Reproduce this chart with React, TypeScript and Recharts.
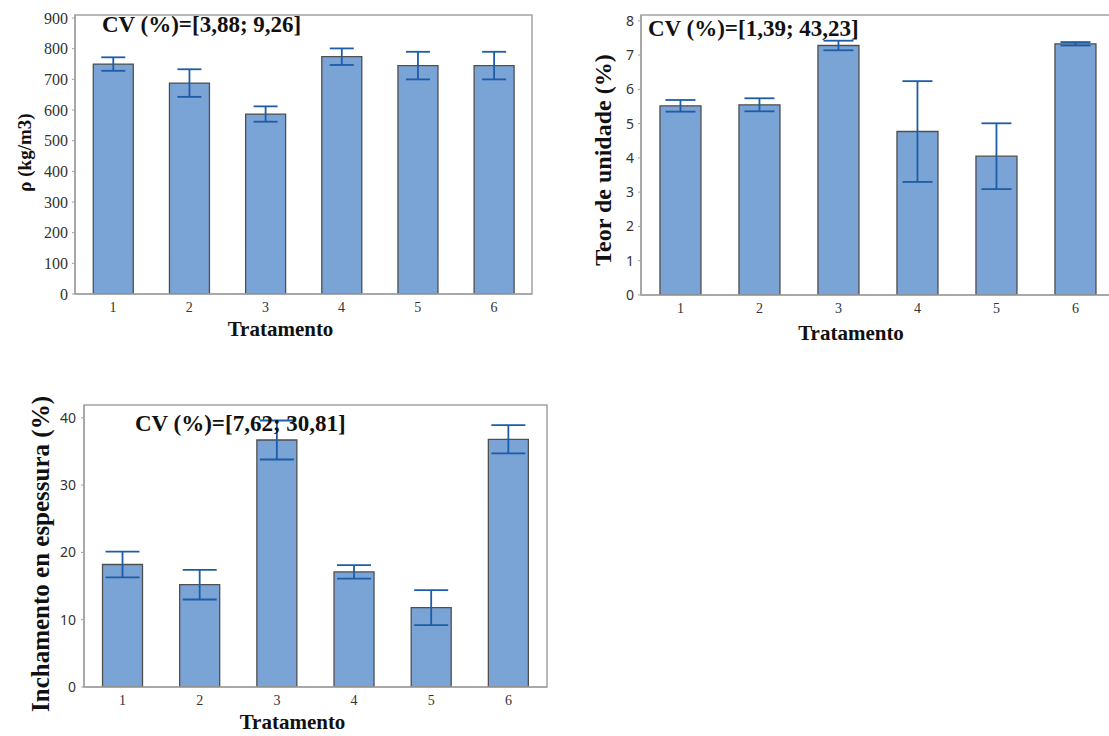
import React from 'react';
import { BarChart, Bar, XAxis, YAxis, ErrorBar, Label, ReferenceArea } from 'recharts';

const categories = ['1', '2', '3', '4', '5', '6'];

const densidade = [750, 688, 587, 774, 745, 745];
const densidadeErr = [22, 45, 25, 27, 45, 45];
const densidadeTicks = [0, 100, 200, 300, 400, 500, 600, 700, 800, 900];

const umidade = [5.52, 5.55, 7.28, 4.77, 4.05, 7.33];
const umidadeErr = [0.17, 0.19, 0.14, 1.47, 0.96, 0.05];
const umidadeTicks = [0, 1, 2, 3, 4, 5, 6, 7, 8];

const inchamento = [18.2, 15.2, 36.7, 17.1, 11.8, 36.8];
const inchamentoErr = [1.9, 2.2, 2.9, 1.0, 2.6, 2.1];
const inchamentoTicks = [0, 10, 20, 30, 40];

const build = (vals: number[], errs: number[]) =>
  categories.map((c, i) => ({ name: c, value: vals[i], err: errs[i] }));

const SERIF = '"Liberation Serif", "Times New Roman", serif';
const SANS = '"Noto Sans", "DejaVu Sans", sans-serif';
const FRAME = '#a3a3a3';
const BAR_FILL = '#7aa3d6';
const BAR_STROKE = '#4f4f4f';
const ERR = '#1d5ca6';

type PanelProps = {
  data: { name: string; value: number; err: number }[];
  left: number;
  top: number;
  width: number;
  height: number;
  margin: { top: number; right: number; bottom: number; left: number };
  yAxisWidth: number;
  xAxisHeight: number;
  domain: [number, number];
  ticks: number[];
  yTickFont: string;
  yTickSize: number;
  yTickMargin: number;
  yLabel: string;
  yLabelSize: number;
  yLabelDx: number;
  yLabelDy: number;
  xLabelDx: number;
  xLabelDy: number;
  cv: string;
  cvDx: number;
  cvDy: number;
  capWidth: number;
};

function Panel(p: PanelProps) {
  return (
    <div style={{ position: 'absolute', left: p.left, top: p.top }}>
      <BarChart
        width={p.width}
        height={p.height}
        data={p.data}
        margin={p.margin}
        barCategoryGap="24%"
      >
        <XAxis
          dataKey="name"
          height={p.xAxisHeight}
          tickLine={false}
          axisLine={{ stroke: FRAME, strokeWidth: 1.5 }}
          tick={{ fill: '#333', fontSize: 14, fontFamily: SERIF }}
          interval={0}
        >
          <Label
            value="Tratamento"
            position="center"
            dx={p.xLabelDx}
            dy={p.xLabelDy}
            style={{ fontFamily: SERIF, fontWeight: 'bold', fontSize: 21, fill: '#111' }}
          />
        </XAxis>
        <YAxis
          width={p.yAxisWidth}
          domain={p.domain}
          ticks={p.ticks}
          interval={0}
          allowDataOverflow
          tickSize={3}
          tickMargin={p.yTickMargin}
          tickLine={{ stroke: FRAME }}
          axisLine={{ stroke: FRAME, strokeWidth: 1.5 }}
          tick={{ fill: '#333', fontSize: p.yTickSize, fontFamily: p.yTickFont }}
        >
          <Label
            value={p.yLabel}
            position="center"
            angle={-90}
            dx={p.yLabelDx}
            dy={p.yLabelDy}
            style={{ fontFamily: SERIF, fontWeight: 'bold', fontSize: p.yLabelSize, fill: '#111' }}
          />
        </YAxis>
        <ReferenceArea
          y1={p.domain[0]}
          y2={p.domain[1]}
          fill="none"
          fillOpacity={0}
          stroke={FRAME}
          strokeWidth={1.5}
          isFront={false}
        >
          <Label
            value={p.cv}
            position="insideTopLeft"
            offset={0}
            dx={p.cvDx}
            dy={p.cvDy}
            style={{ fontFamily: SERIF, fontWeight: 'bold', fontSize: 23, fill: '#111' }}
          />
        </ReferenceArea>
        <Bar
          dataKey="value"
          fill={BAR_FILL}
          stroke={BAR_STROKE}
          strokeWidth={1.3}
          isAnimationActive={false}
        >
          <ErrorBar
            dataKey="err"
            direction="y"
            width={p.capWidth}
            stroke={ERR}
            strokeWidth={1.8}
            isAnimationActive={false}
          />
        </Bar>
      </BarChart>
    </div>
  );
}

export default function App() {
  return (
    <div
      style={{
        position: 'absolute',
        left: 0,
        top: 0,
        width: 1109,
        height: 736,
        overflow: 'hidden',
        background: '#fff',
      }}
    >
      <Panel
        data={build(densidade, densidadeErr)}
        left={0}
        top={0}
        width={560}
        height={345}
        margin={{ top: 15, right: 28, bottom: 0, left: 0 }}
        yAxisWidth={75}
        xAxisHeight={51}
        domain={[0, 910]}
        ticks={densidadeTicks}
        yTickFont={SERIF}
        yTickSize={16}
        yTickMargin={4}
        yLabel="ρ (kg/m3)"
        yLabelSize={19}
        yLabelDx={-13}
        yLabelDy={-2}
        xLabelDx={-23}
        xLabelDy={9}
        cv="CV (%)=[3,88; 9,26]"
        cvDx={27}
        cvDy={1}
        capWidth={12}
      />
      <Panel
        data={build(umidade, umidadeErr)}
        left={580}
        top={0}
        width={545}
        height={345}
        margin={{ top: 15, right: 10, bottom: 0, left: 0 }}
        yAxisWidth={61}
        xAxisHeight={50}
        domain={[0, 8.17]}
        ticks={umidadeTicks}
        yTickFont={SANS}
        yTickSize={14}
        yTickMargin={4}
        yLabel="Teor de unidade (%)"
        yLabelSize={24}
        yLabelDx={-8}
        yLabelDy={5}
        xLabelDx={-27}
        xLabelDy={13}
        cv="CV (%)=[1,39; 43,23]"
        cvDx={7}
        cvDy={5}
        capWidth={15}
      />
      <Panel
        data={build(inchamento, inchamentoErr)}
        left={0}
        top={390}
        width={560}
        height={346}
        margin={{ top: 15, right: 13, bottom: 0, left: 0 }}
        yAxisWidth={84}
        xAxisHeight={49}
        domain={[0, 41.9]}
        ticks={inchamentoTicks}
        yTickFont={SANS}
        yTickSize={14}
        yTickMargin={5}
        yLabel="Inchamento en espessura (%)"
        yLabelSize={25}
        yLabelDx={-2}
        yLabelDy={8}
        xLabelDx={-23}
        xLabelDy={10}
        cv="CV (%)=[7,62; 30,81]"
        cvDx={51}
        cvDy={10}
        capWidth={17}
      />
    </div>
  );
}
